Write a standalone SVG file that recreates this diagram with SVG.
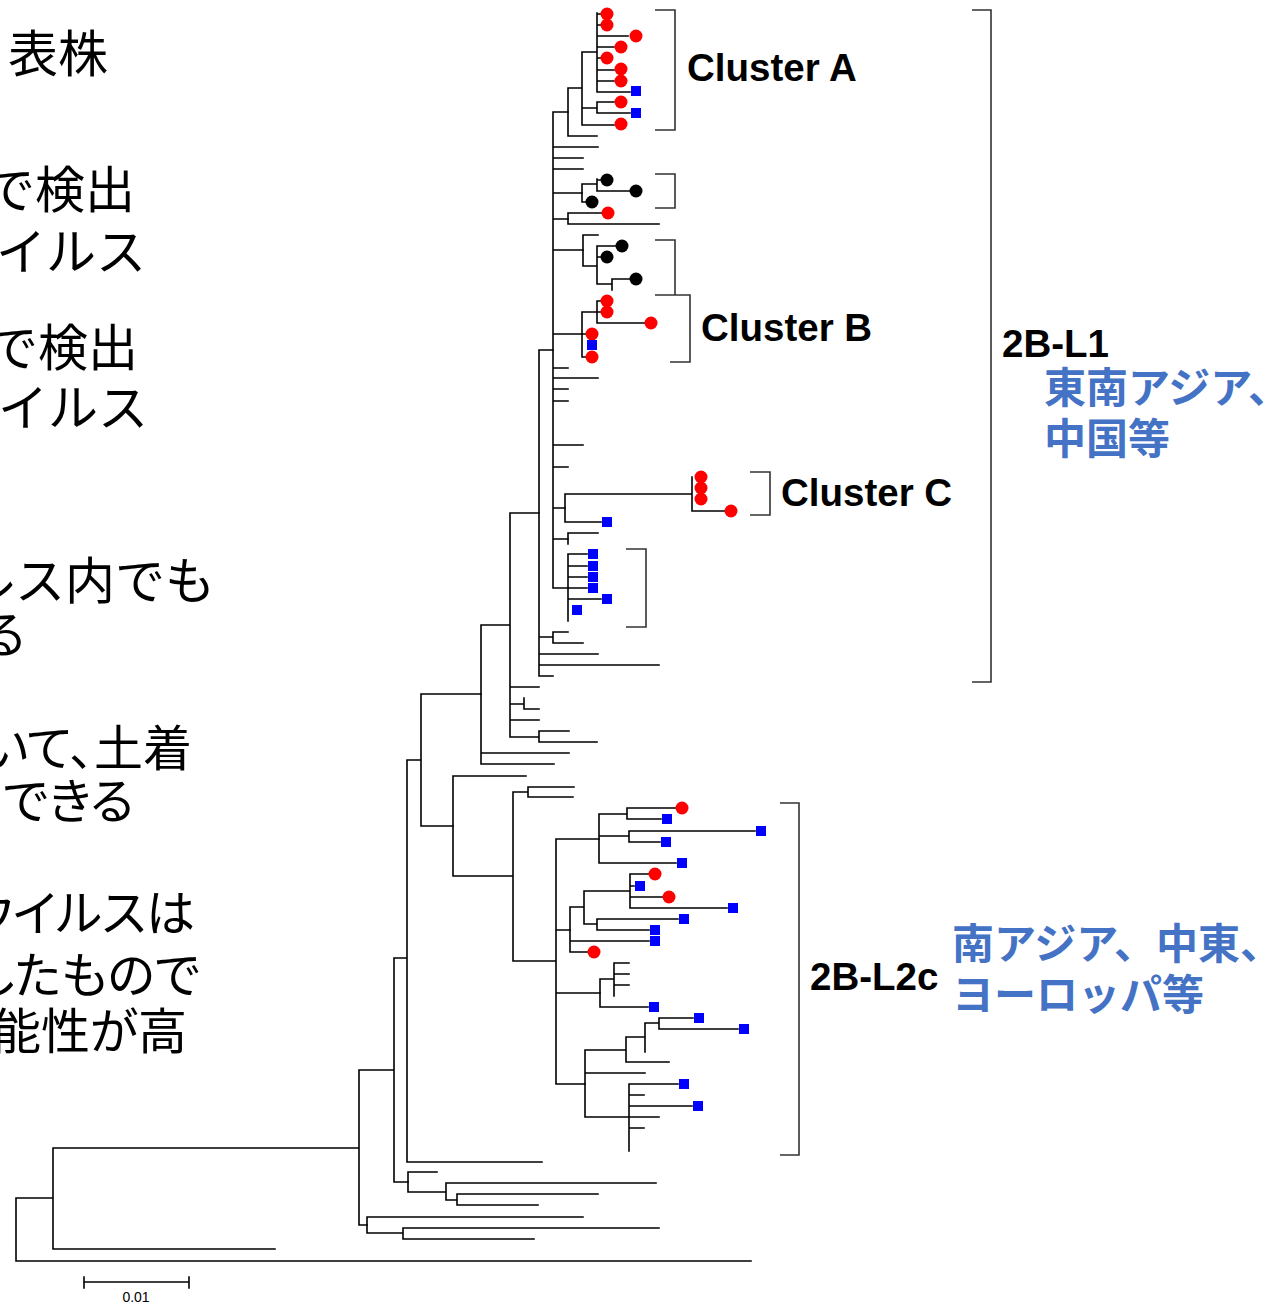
<svg xmlns="http://www.w3.org/2000/svg" xmlns:xlink="http://www.w3.org/1999/xlink" width="1281" height="1303" viewBox="0 0 1281 1303">
<style>
.t{fill:none;stroke:#000;stroke-width:1.6;stroke-linecap:square}
.br{fill:none;stroke:#333;stroke-width:1.6}
.jp{font-family:"Noto Sans CJK JP","Noto Sans CJK SC",sans-serif;font-size:50px;fill:#000;text-anchor:end}
.pj{font-family:"Noto Sans CJK JP","Noto Sans CJK SC",sans-serif;font-size:49px;fill:#000;text-anchor:end;font-feature-settings:"palt" 1}
.cl{font-family:"Liberation Sans",Arial,sans-serif;font-weight:bold;font-size:38.5px;fill:#000}
.bl{font-family:"Noto Sans CJK JP","Noto Sans CJK SC",sans-serif;font-weight:bold;font-size:42px;fill:#4472C4}
</style>
<defs>
<circle id="rc" r="6.5" fill="#ff0000"/>
<circle id="kc" r="6.5" fill="#000"/>
<rect id="bs" x="-5" y="-5" width="10" height="10" fill="#0000ff"/>
</defs>
<rect width="1281" height="1303" fill="#fff"/>

<g id="left-text">
<text class="jp" x="108" y="72">表株</text>
<text class="jp" x="135" y="208">で検出</text>
<text class="jp" x="146" y="270">イルス</text>
<text class="jp" x="138" y="366">で検出</text>
<text class="jp" x="148" y="426">イルス</text>
<text class="jp" x="215" y="599">ルス内でも</text>
<text class="jp" x="28" y="653">る</text>
<text class="pj" x="192" y="766">いて、土着</text>
<text class="pj" x="134" y="819">できる</text>
<text class="pj" x="195" y="931">ウイルスは</text>
<text class="pj" x="200" y="993">したもので</text>
<text class="pj" x="187" y="1049">能性が高</text>
</g>

<g id="connectors">
<path class="t" d="M16 1198V1261M16 1198H53M16 1261H751M53 1148V1249M53 1148H359M53 1249H275M359 1070V1225M359 1070H394M359 1225H367M394 958V1182M394 958H407M394 1182H408M407 760V1162M407 760H421M407 1162H542M421 694V826M421 694H481M421 826H453"/>
<path class="t" d="M481 625V764M481 625H510M481 753H569M481 764H554M510 513V737M510 513H539M510 687H539M510 704H524M510 720H539M510 737H539M524 698V709M524 709H539M539 731V742M539 731H569M539 742H597"/>
<path class="t" d="M539 350V676M539 350H553M539 637H553M539 654H598M539 665H659M539 676H553M553 632V643M553 632H568M553 643H583"/>
<path class="t" d="M553 112V588M553 112H568M553 147H598M553 158H583M553 169H583M553 193H582M553 219H568M553 250H583M553 334H582M553 368H568M553 378H598M553 389H568M553 401H568M553 445H583M553 467H568M553 508H565M553 539H568M553 588H568"/>
<path class="t" d="M568 88V136M568 88H582M568 136H597M582 52V125M582 52H597M582 108H597M582 125H614M597 13V92M597 14H601M597 25H601M597 36H628M597 47H614M597 58H601M597 70H614M597 81H614M597 92H630M597 102V113M597 102H614M597 113H630"/>
<path class="t" d="M582 184V202M582 184H597M582 202H586M597 179V191M597 180H601M597 191H630M568 213V224M568 213H602M568 224H659M583 235V266M583 235H598M583 266H597M597 246V284M597 246H616M597 257H601M597 284H612M612 279V290M612 279H630M582 312V357M582 312H597M582 334H586M582 357H586M597 301V323M597 301H601M597 312H601M597 323H645"/>
<path class="t" d="M565 494V522M565 494H692M565 522H601M692 477V511M692 511H725M568 533V544M568 533H598M568 554V621M568 554H587M568 566H587M568 577H587M568 588H587M568 599H601"/>
<path class="t" d="M453 776V876M453 776H526M453 876H513M513 792V961M513 792H528M513 961H556M528 787V797M528 787H574M528 797H573M556 839V1084M556 839H599M556 930H570M556 993H600M556 1084H585"/>
<path class="t" d="M599 814V863M599 814H627M599 836H629M599 863H676M627 808V819M627 808H676M627 819H661M629 831V842M629 831H755M629 842H660M570 907V952M570 907H584M570 941H649M570 952H588M584 891V924M584 891H630M584 924H597M630 874V908M630 874H649M630 886H634M630 897H663M630 908H727M597 919V930M597 919H678M597 930H649"/>
<path class="t" d="M600 979V1007M600 979H614M600 1007H648M614 963V996M614 963H629M614 974H629M614 985H629M585 1050V1117M585 1050H626M585 1073H645M585 1117H629M626 1037V1062M626 1037H645M626 1062H669M645 1023V1052M645 1023H659M659 1018V1029M659 1018H693M659 1029H738M629 1084V1151M629 1084H678M629 1095H644M629 1106H692M629 1117H659M629 1128H644"/>
<path class="t" d="M408 1172V1192M408 1172H437M408 1192H446M446 1183V1200M446 1183H656M446 1200H457M457 1194V1205M457 1194H598M457 1205H538M367 1217V1233M367 1217H583M367 1233H403M403 1228V1239M403 1228H659M403 1239H534"/>
</g>

<g id="clusterA-tips">
<use xlink:href="#rc" x="607" y="14"/><use xlink:href="#rc" x="607" y="25"/><use xlink:href="#rc" x="636" y="36"/><use xlink:href="#rc" x="621" y="47"/><use xlink:href="#rc" x="607" y="58"/><use xlink:href="#rc" x="621" y="69"/><use xlink:href="#rc" x="621" y="81"/><use xlink:href="#bs" x="636" y="91"/><use xlink:href="#rc" x="621" y="102"/><use xlink:href="#bs" x="636" y="113"/><use xlink:href="#rc" x="621" y="124"/>
</g>
<g id="black-tips">
<use xlink:href="#kc" x="607" y="180"/><use xlink:href="#kc" x="636" y="191"/><use xlink:href="#kc" x="592" y="202"/><use xlink:href="#rc" x="608" y="213"/>
<use xlink:href="#kc" x="622" y="246"/><use xlink:href="#kc" x="607" y="257"/><use xlink:href="#kc" x="636" y="279"/>
</g>
<g id="clusterB-tips">
<use xlink:href="#rc" x="607" y="301"/><use xlink:href="#rc" x="607" y="312"/><use xlink:href="#rc" x="651" y="323"/><use xlink:href="#rc" x="592" y="334"/><use xlink:href="#bs" x="592" y="345"/><use xlink:href="#rc" x="592" y="357"/>
</g>
<g id="clusterC-tips">
<use xlink:href="#rc" x="701" y="477"/><use xlink:href="#rc" x="701" y="488"/><use xlink:href="#rc" x="701" y="499"/><use xlink:href="#rc" x="731" y="511"/><use xlink:href="#bs" x="607" y="522"/>
</g>
<g id="blue-cluster-tips">
<use xlink:href="#bs" x="593" y="554"/><use xlink:href="#bs" x="593" y="566"/><use xlink:href="#bs" x="593" y="577"/><use xlink:href="#bs" x="593" y="588"/><use xlink:href="#bs" x="607" y="599"/><use xlink:href="#bs" x="577" y="610"/>
</g>
<g id="L2c-tips">
<use xlink:href="#rc" x="682" y="808"/><use xlink:href="#bs" x="667" y="819"/><use xlink:href="#bs" x="761" y="831"/><use xlink:href="#bs" x="666" y="842"/><use xlink:href="#bs" x="682" y="863"/>
<use xlink:href="#rc" x="655" y="874"/><use xlink:href="#bs" x="640" y="886"/><use xlink:href="#rc" x="669" y="897"/><use xlink:href="#bs" x="733" y="908"/><use xlink:href="#bs" x="684" y="919"/><use xlink:href="#bs" x="655" y="930"/><use xlink:href="#bs" x="655" y="941"/><use xlink:href="#rc" x="594" y="952"/>
<use xlink:href="#bs" x="654" y="1007"/><use xlink:href="#bs" x="699" y="1018"/><use xlink:href="#bs" x="744" y="1029"/><use xlink:href="#bs" x="684" y="1084"/><use xlink:href="#bs" x="698" y="1106"/>
</g>

<g id="bracket-clusterA">
<path class="br" d="M655 10H675V130H655"/>
<text class="cl" x="687" y="81">Cluster A</text>
</g>
<g id="bracket-black">
<path class="br" d="M655 174H675V208H655"/>
</g>
<g id="bracket-clusterB">
<path class="br" d="M655 240H675V295M655 295H690V362H670"/>
<text class="cl" x="701" y="341">Cluster B</text>
</g>
<g id="bracket-clusterC">
<path class="br" d="M750 472H770V515H750"/>
<text class="cl" x="781" y="506">Cluster C</text>
</g>
<g id="bracket-blue">
<path class="br" d="M626 549H646V627H626"/>
</g>
<g id="bracket-2B-L1">
<path class="br" d="M972 10H991V682H972"/>
<text class="cl" x="1002" y="357">2B-L1</text>
<text class="bl" x="1044" y="403">東南アジア、</text>
<text class="bl" x="1044" y="454">中国等</text>
</g>
<g id="bracket-2B-L2c">
<path class="br" d="M780 803H799V1155H780"/>
<text class="cl" x="810" y="990">2B-L2c</text>
<text class="bl" x="952" y="959">南アジア、中東、</text>
<text class="bl" x="952" y="1010">ヨーロッパ等</text>
</g>

<g id="scale-bar">
<path class="t" d="M84 1282H189M84 1277V1288M189 1277V1288"/>
<text x="136" y="1302" font-family="Liberation Sans,Arial,sans-serif" font-size="14" text-anchor="middle">0.01</text>
</g>
</svg>
